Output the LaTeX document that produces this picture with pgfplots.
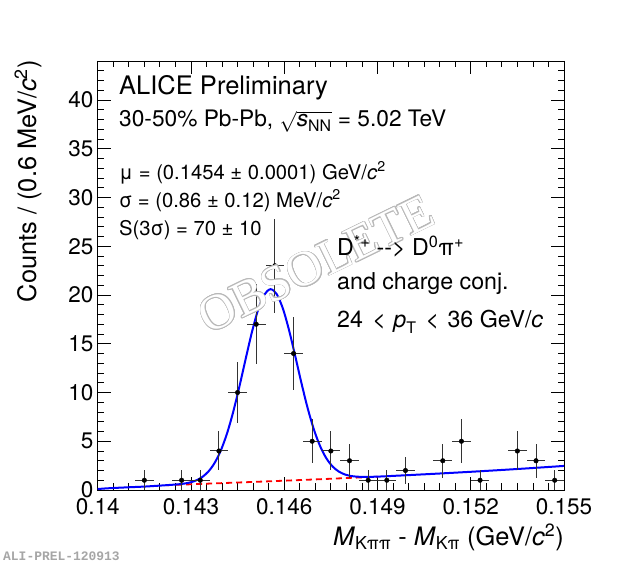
\documentclass[border=0pt]{standalone}
\usepackage{amsmath}
\usepackage{fontspec}
\setmainfont{TeX Gyre Heros}
\newfontfamily\wmfont{Liberation Serif}
\newfontfamily\prelfont{Liberation Mono}
\usepackage{pgfplots}
\pgfplotsset{compat=1.18}
\usepackage{pgfplotstable}

\pgfplotstableread{
x y ex ey
0.1415 1 0.0003 1
0.1427 1 0.0003 1
0.1433 1 0.0003 1
0.1439 4 0.0003 2
0.1445 10 0.0003 3.162
0.1451 17 0.0003 4.123
0.1457 23 0.0003 4.796
0.1463 14 0.0003 3.742
0.1469 5 0.0003 2.236
0.1475 4 0.0003 2
0.1481 3 0.0003 1.732
0.1487 1 0.0003 1
0.1493 1 0.0003 1
0.1499 2 0.0003 1.414
0.1511 3 0.0003 1.732
0.1517 5 0.0003 2.236
0.1523 1 0.0003 1
0.1535 4 0.0003 2
0.1541 3 0.0003 1.732
0.1547 1 0.0003 1
}\datatable

\begin{document}
\begin{tikzpicture}
\useasboundingbox (0,0) rectangle (620bp,564bp);
\begin{axis}[
  at={(97.7bp,74bp)}, anchor=south west,
  scale only axis, width=466.3bp, height=429bp,
  xmin=0.14, xmax=0.155, ymin=0, ymax=44,
  xtick={0.14,0.143,0.146,0.149,0.152,0.155},
  xticklabels={0.14,0.143,0.146,0.149,0.152,0.155},
  minor xtick={0.1405,0.141,0.1415,0.142,0.1425,0.1435,0.144,0.1445,0.145,0.1455,0.1465,0.147,0.1475,0.148,0.1485,0.1495,0.15,0.1505,0.151,0.1515,0.1525,0.153,0.1535,0.154,0.1545},
  ytick={0,5,...,40},
  minor ytick={1,2,3,4,6,7,8,9,11,12,13,14,16,17,18,19,21,22,23,24,26,27,28,29,31,32,33,34,36,37,38,39,41,42,43},
  scaled x ticks=false, scaled y ticks=false,
  tick align=inside,
  xtick pos=both, ytick pos=both,
  xticklabel pos=lower, yticklabel pos=left,
  major tick length=13bp, minor tick length=6.5bp,
  tick style={black, line width=0.8bp},
  axis line style={black, line width=0.8bp},
  /pgf/number format/assume math mode=true,
  ticklabel style={font=\fontsize{22.6}{27}\selectfont, inner sep=0pt},
  xticklabel style={anchor=north, yshift=-8bp},
  yticklabel style={anchor=east, xshift=-4bp},
  clip=false,
]
\addplot[red, line width=1.8bp, dash pattern=on 6bp off 4bp] coordinates {
(0.1422,0.49) (0.1426,0.539) (0.1430,0.587) (0.1435,0.646) (0.1440,0.706)
(0.1445,0.767) (0.1450,0.828) (0.1455,0.890) (0.1460,0.954) (0.1465,1.019)
(0.1470,1.085) (0.1475,1.154) (0.1480,1.224) (0.1485,1.296) (0.1490,1.370)
};
\addplot[blue, line width=2bp, smooth] coordinates {
(0.1400,0.10) (0.1403,0.17) (0.1406,0.22) (0.1410,0.28) (0.1415,0.35)
(0.1420,0.45) (0.14236,0.527)
(0.14256,0.573) (0.14276,0.645) (0.14296,0.765) (0.14316,0.972) (0.14336,1.322)
(0.14356,1.891) (0.14376,2.770) (0.14396,4.051) (0.14416,5.799) (0.14436,8.022)
(0.14456,10.635) (0.14476,13.450) (0.14496,16.179) (0.14516,18.483) (0.14536,20.034)
(0.14556,20.597) (0.14576,20.083) (0.14596,18.584) (0.14616,16.331) (0.14636,13.652)
(0.14656,10.888) (0.14676,8.325) (0.14696,6.154) (0.14716,4.457) (0.14736,3.227)
(0.14756,2.399) (0.14776,1.882) (0.14796,1.584) (0.14816,1.430) (0.14836,1.363)
(0.14856,1.344) (0.14876,1.352) (0.1490,1.370) (0.1495,1.447) (0.1500,1.526)
(0.1510,1.691) (0.1520,1.867) (0.1530,2.055) (0.1540,2.255) (0.1550,2.469)
};
\addplot[only marks, mark=*, mark size=2.3bp, black,
  error bars/.cd, x dir=both, x explicit, y dir=both, y explicit,
  error mark=none, error bar style={black!80, line width=1bp}]
  table[x=x, y=y, x error=ex, y error=ey] {\datatable};
\end{axis}

% texts
\node[anchor=base west, inner sep=0pt, font=\fontsize{25.6}{30}\selectfont] at (119bp,469bp) {ALICE Preliminary};
\node[anchor=base west, inner sep=0pt, font=\fontsize{22.8}{28}\selectfont] at (119bp,437.3bp) {30-50\% Pb-Pb, $\sqrt{\textit{s}_{\text{NN}}}$ = 5.02 TeV};
\node[anchor=base west, inner sep=0pt, font=\fontsize{20.3}{24}\selectfont] at (119bp,384.7bp) {μ = (0.1454 ± 0.0001) GeV/\textit{c}\textsuperscript{2}};
\node[anchor=base west, inner sep=0pt, font=\fontsize{20.3}{24}\selectfont] at (119bp,356.7bp) {σ = (0.86 ± 0.12) MeV/\textit{c}\textsuperscript{2}};
\node[anchor=base west, inner sep=0pt, font=\fontsize{20.3}{24}\selectfont] at (119bp,328.3bp) {S(3σ) = 70 ± 10};
\node[anchor=base west, inner sep=0pt, font=\fontsize{23.3}{28}\selectfont] at (337bp,274bp) {and charge conj.};
\node[anchor=base west, inner sep=0pt, font=\fontsize{23.3}{28}\selectfont] at (337bp,236bp) {24\kern3bp{} < \kern1bp\textit{p}\raisebox{-6bp}{\fontsize{16}{16}\selectfont T}\kern3bp{} < \kern2bp36 GeV/\textit{c}};

\node[anchor=base east, inner sep=0pt, font=\fontsize{25.5}{30}\selectfont] at (564bp,19bp) {\textit{M}$_{\text{Kππ}}$ - \textit{M}$_{\text{Kπ}}$ (GeV/\textit{c}\textsuperscript{2})};
\node[anchor=base east, rotate=90, inner sep=0pt, font=\fontsize{25.5}{30}\selectfont] at (36bp,504bp) {Counts / (0.6 MeV/\textit{c}\textsuperscript{2})};

\node[anchor=base west, inner sep=0pt, text=black!35, font=\prelfont\bfseries\fontsize{13}{15}\selectfont] at (3bp,4bp) {ALI-PREL-120913};

% watermark
\foreach \a in {0,22.5,...,337.5} {
  \begin{scope}[shift={(\a:0.7bp)}]
  \node[rotate=26, inner sep=0pt, text=black!28, font=\wmfont\fontsize{50}{50}\selectfont] at (316bp,300bp) {OBSOLETE};
  \end{scope}
}
\node[rotate=26, inner sep=0pt, text=white, font=\wmfont\fontsize{50}{50}\selectfont] at (316bp,300bp) {OBSOLETE};

\node[anchor=base west, inner sep=0pt, font=\fontsize{23.3}{28}\selectfont] at (337bp,308bp) {D\textsuperscript{*+} -{}-> D\textsuperscript{0}π\textsuperscript{+}};
\end{tikzpicture}
\end{document}
